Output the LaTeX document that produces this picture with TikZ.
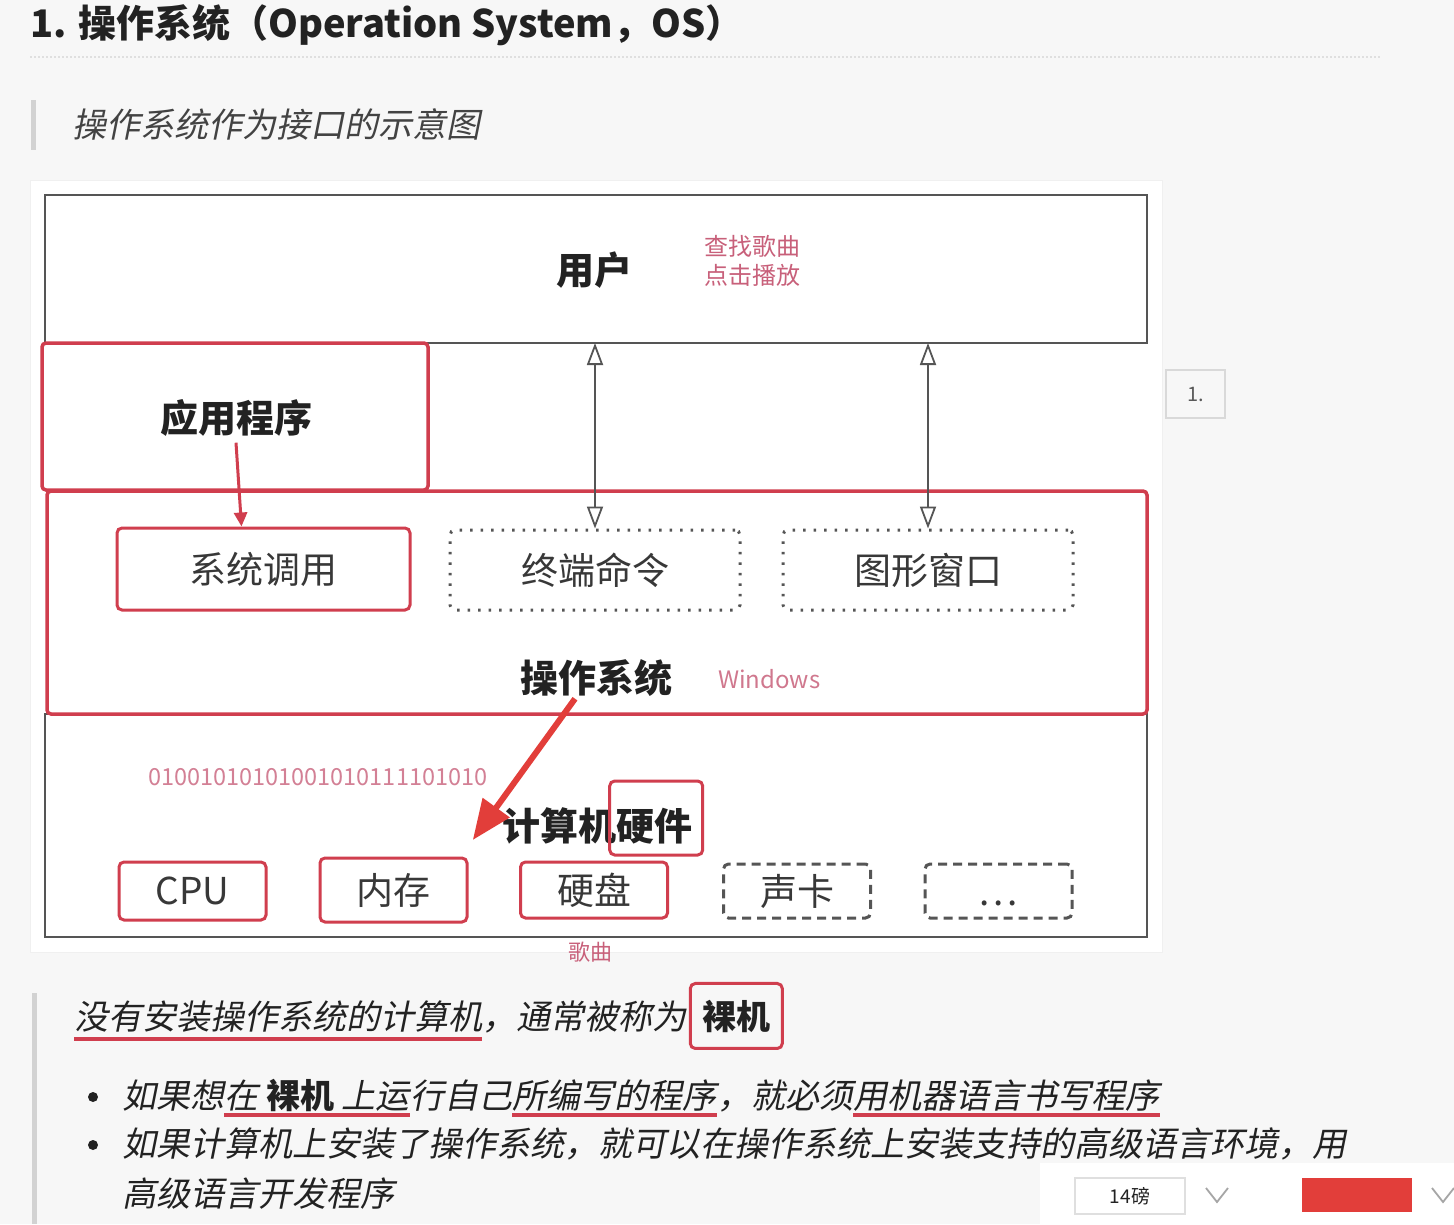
\documentclass[tikz,border=0pt]{standalone}
\usepackage{fontspec}
\setmainfont{Noto Sans CJK SC}[AutoFakeSlant=0.2]
\usetikzlibrary{arrows.meta, positioning}
\definecolor{pagebg}{RGB}{247,247,247}
\definecolor{boxred}{RGB}{208,62,78}
\definecolor{arrowred}{RGB}{226,62,58}
\definecolor{notepink}{RGB}{200,96,122}
\definecolor{inkgray}{RGB}{85,85,85}
\definecolor{textdark}{RGB}{34,34,34}
\newcommand{\fsz}[1]{\fontsize{#1pt}{#1pt}\selectfont}

\begin{document}
\begin{tikzpicture}[x=1pt, y=-1pt,
    layer/.style={draw=inkgray, line width=2.5pt, minimum width=1102pt, inner sep=0pt, outer sep=0pt},
    redlayer/.style={draw=boxred, line width=3.5pt, rounded corners=4pt, inner sep=0pt, outer sep=0pt},
    part/.style={rounded corners=5pt, line width=3pt, minimum width=147pt, minimum height=58pt, inner sep=0pt, text=textdark!90, font=\fsz{37}},
    redpart/.style={part, draw=boxred},
    dashpart/.style={part, draw=inkgray, dash pattern=on 9pt off 6pt},
    dotpart/.style={part, draw=inkgray, dash pattern=on 2.5pt off 8pt, minimum width=290pt, minimum height=80pt},
    lbl/.style={font=\fsz{38}\bfseries, text=textdark, inner sep=0pt},
    note/.style={font=\fsz{24}, text=notepink, inner sep=0pt},
    biarrow/.style={draw=inkgray, line width=1.8pt, {Triangle[open,length=22pt,width=16pt]}-{Triangle[open,length=22pt,width=16pt]}},
    redarrow/.style={draw=boxred, line width=3pt, -{Triangle[length=14pt,width=13pt]}},
    bigarrow/.style={draw=arrowred, line width=6pt, -{Triangle[length=40pt,width=32pt]}},
    body/.style={font=\fsz{34}\itshape, text=textdark, inner sep=0pt, anchor=base west},
    uline/.style={draw=boxred, line width=4pt}]

    \useasboundingbox (0,0) rectangle (1454,1224);
    \fill[pagebg] (0,0) rectangle (1454,1224);

    \node [anchor=west, font=\fsz{38}\bfseries, text=textdark, inner sep=0pt] (heading) at (30,25) {1. 操作系统（Operation System，OS）};
    \draw [gray!25, line width=1.5pt, dash pattern=on 2pt off 2pt] (30,57) -- (1380,57);
    \fill [gray!35] (31,100) rectangle (36,150);
    \node [anchor=west, font=\fsz{34}\itshape, text=textdark!85, inner sep=0pt] (caption) at (72,124) {操作系统作为接口的示意图};

    \node [fill=white, draw=gray!12, line width=1pt, minimum width=1132pt, minimum height=772pt, inner sep=0pt] (card) at (596,566) {};
    \node [layer, minimum height=148pt] (user) at (596,269) {};
    \node [layer, minimum height=223pt] (hw) at (596,825.5) {};
    \node [redlayer, minimum width=1100pt, minimum height=223pt] (os) at (597,602.5) {};
    \node [redlayer, minimum width=386pt, minimum height=147pt] (app) at (235,416.5) {};

    \node [lbl] (userlbl) at (594,270) {用户};
    \node [note, anchor=west] (find) at (704,246) {查找歌曲};
    \node [note, below=7pt of find.south west, anchor=north west] (play) {点击播放};
    \node [lbl] (applbl) at (236,418) {应用程序};
    \node [redpart, minimum width=293pt, minimum height=82pt] (syscall) at (263.5,569) {系统调用};
    \node [dotpart] (term) at (595,570) {终端命令};
    \node [dotpart] (gui) at (928,570) {图形窗口};
    \node [lbl] (oslbl) at (596,678) {操作系统};
    \node [note, text=notepink!85!white, anchor=west] (win) at (718,679) {Windows};

    \node [note, font=\fsz{23.5}, text=notepink!80!white, anchor=west] (bits) at (148,777) {01001010101001010111101010};
    \node [lbl] (hwlbl) at (597,826) {计算机硬件};
    \node [draw=boxred, line width=3pt, rounded corners=5pt, minimum width=93pt, minimum height=74pt, inner sep=0pt, xshift=-36pt, yshift=8pt] (hwbox) at (hwlbl.east) {};
    \node [redpart] (cpu) at (192.5,891) {CPU};
    \node [redpart, minimum height=64pt] (mem) at (393.5,890) {内存};
    \node [redpart, minimum height=56pt] (disk) at (594,890) {硬盘};
    \node [dashpart, minimum height=54pt] (sound) at (797,891) {声卡};
    \node [dashpart, minimum height=54pt] (more) at (998.5,891) {\vphantom{声}.\kern4pt.\kern4pt.};
    \node [note, font=\fsz{22}] (song) at (590,952) {歌曲};

    \node [draw=gray!30, line width=1.5pt, minimum width=59pt, minimum height=48pt, font=\fsz{20}, text=gray!70!black] (mark) at (1195.5,394) {1.};

    \path [biarrow] (term.north |- user.south) -- (term.north);
    \path [biarrow] (gui.north |- user.south) -- (gui.north);
    \path [redarrow] ([yshift=-6pt]applbl.south) -- ([xshift=-22pt]syscall.north);
    \path [bigarrow] ([xshift=-21pt,yshift=-2pt]oslbl.south) -- ([xshift=-29pt,yshift=-14pt]hwlbl.west);

    \fill [gray!35] (32,993) rectangle (37,1224);
    \node [body] (bare1) at (74,1029) {没有安装操作系统的计算机};
    \node [body, right=0pt of bare1.base east, anchor=base west] (bare2) {，通常被称为};
    \node [body, font=\fsz{34}\itshape\bfseries, draw=boxred, line width=3pt, rounded corners=5pt, inner xsep=12pt, minimum height=65pt, right=2pt of bare2.base east, anchor=base west] (bare3) {裸机};
    \path [uline] ([yshift=-10pt]bare1.base west) -- ([yshift=-10pt]bare1.base east);

    \node [circle, fill=textdark, minimum size=10pt, inner sep=0pt] (dot1) at (93,1097) {};
    \node [body] (b1a) at (122,1108) {如果想};
    \node [body, right=0pt of b1a.base east, anchor=base west] (b1b) {在 \textbf{裸机} 上运};
    \node [body, right=0pt of b1b.base east, anchor=base west] (b1c) {行自己};
    \node [body, right=0pt of b1c.base east, anchor=base west] (b1d) {所编写的程序};
    \node [body, right=0pt of b1d.base east, anchor=base west] (b1e) {，就必须};
    \node [body, right=0pt of b1e.base east, anchor=base west] (b1f) {用机器语言书写程序};
    \path [uline] ([yshift=-7pt]b1b.base west) -- ([yshift=-7pt]b1b.base east);
    \path [uline] ([yshift=-7pt]b1d.base west) -- ([yshift=-7pt]b1d.base east);
    \path [uline] ([yshift=-7pt]b1f.base west) -- ([yshift=-7pt]b1f.base east);

    \node [circle, fill=textdark, minimum size=10pt, inner sep=0pt] (dot2) at (93,1145) {};
    \node [body] (b2a) at (122,1156) {如果计算机上安装了操作系统，就可以在操作系统上安装支持的高级语言环境，用};
    \node [body] (b2b) at (122,1206) {高级语言开发程序};

    \fill [white] (1040,1163) rectangle (1454,1224);
    \node [draw=gray!25, fill=white, line width=1.2pt, minimum width=110pt, minimum height=36pt, font=\fsz{19}, text=textdark] (size) at (1130,1196) {14磅};
    \draw [gray!70, line width=1.8pt] (1206,1188) -- (1217,1202) -- (1228,1188);
    \node [fill=arrowred, minimum width=110pt, minimum height=34pt, inner sep=0pt] (swatch) at (1357,1195) {};
    \draw [gray!70, line width=1.8pt] (1432,1188) -- (1443,1202) -- (1454,1188);

\end{tikzpicture}
\end{document}
